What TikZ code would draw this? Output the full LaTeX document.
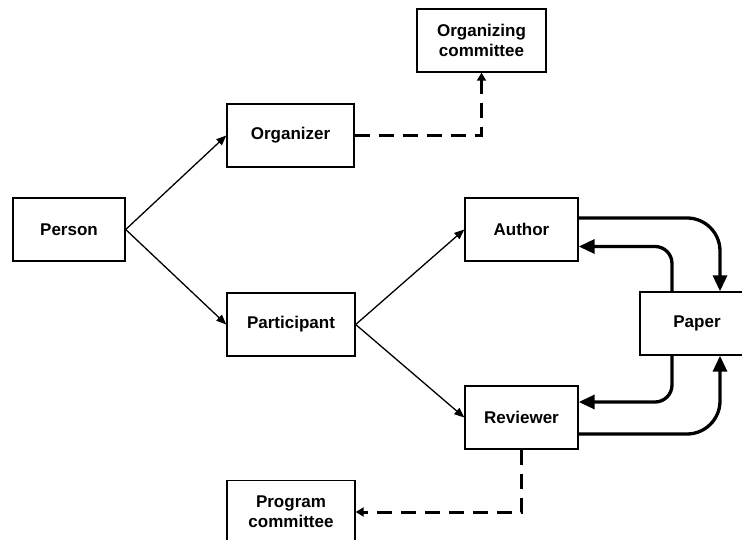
\documentclass[tikz,border=0pt]{standalone}
\usepackage{fontspec}
\setmainfont{Liberation Sans}
\usetikzlibrary{arrows.meta}
\begin{document}
\begin{tikzpicture}[x=1pt,y=-1pt,
  box/.style={draw,line width=1.4pt,fill=white,minimum height=63pt,
    align=center,inner sep=0pt,font=\fontsize{17}{20}\selectfont\bfseries},
  link/.style={line width=1.3pt,-{Triangle[length=10pt,width=8pt]}},
  flow/.style={line width=3.3pt,-{Triangle[length=16pt,width=14pt]}},
  dashlink/.style={line width=3pt,dash pattern=on 15pt off 9pt,
    -{Triangle[length=8pt,width=9pt]}}]
\clip (0,0) rectangle (742,540);
\fill[white] (0,0) rectangle (742,540);

% entity boxes
\node[box,minimum width=112pt] (person)      at (69,229.5)  {Person};
\node[box,minimum width=127pt] (organizer)   at (290.5,135.5) {Organizer};
\node[box,minimum width=128pt] (participant) at (291,324.5) {Participant};
\node[box,minimum width=113pt] (author)      at (521.5,229.5) {Author};
\node[box,minimum width=113pt] (reviewer)    at (521.5,417.5) {Reviewer};
\node[box,minimum width=114pt] (paper)       at (697,323.5) {Paper};
\node[box,minimum width=129pt] (orgcom)      at (481.5,40.5) {Organizing\\committee};
\node[box,minimum width=128pt] (progcom)     at (291,512)   {Program\\committee};

% specialisation links
\draw[link] (person.east) -- (organizer.west);
\draw[link] (person.east) -- (participant.west);
\draw[link] (participant.east) -- (author.west);
\draw[link] (participant.east) -- (reviewer.west);

% membership links
\draw[dashlink] (organizer.east) -| (orgcom.south);
\draw[dashlink] (reviewer.south) |- (progcom.east);

% paper flows
\draw[flow,rounded corners=33pt] ([yshift=11.5pt]author.east) -| ([xshift=23pt]paper.north);
\draw[flow,rounded corners=17pt] ([xshift=-25pt]paper.north) |- ([yshift=-17pt]author.east);
\draw[flow,rounded corners=17pt] ([xshift=-25pt]paper.south) |- ([yshift=15.5pt]reviewer.east);
\draw[flow,rounded corners=33pt] ([yshift=-16.5pt]reviewer.east) -| ([xshift=23pt]paper.south);
\end{tikzpicture}
\end{document}
